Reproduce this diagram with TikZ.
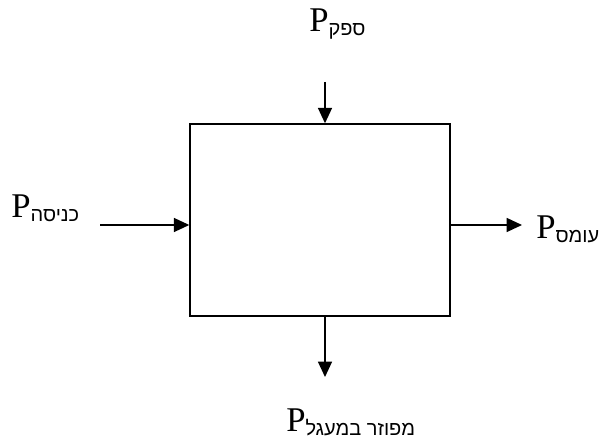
\documentclass[tikz,border=0pt]{standalone}
\usepackage{fontspec}
\setmainfont{Liberation Serif}
\newfontfamily\hebfont[Script=Hebrew]{Liberation Sans}
\TeXXeTstate=1
\usetikzlibrary{arrows.meta, positioning}
\newcommand{\pwrlabel}[1]{P\raisebox{-2.6pt}{\fontsize{15}{15}\selectfont\hebfont\beginR #1\endR}}

\begin{document}
\begin{tikzpicture}[
                x=0.75pt, y=-0.75pt,
                font=\fontsize{26}{26}\selectfont,
                >={Triangle[length=11.5pt,width=10.5pt]},
                blk/.style={
                        draw, line width=1.1pt,
                        minimum width=195pt,
                        minimum height=144pt
                    },
                arr/.style={->, line width=1pt},
                lbl/.style={inner sep=0pt, anchor=base west},
                ]
                \useasboundingbox (0,0) rectangle (608,441);

                \node[blk] (sys) at (320,220) {};

                \coordinate (supin) at (325,82);
                \coordinate (inpt) at (100,225);
                \coordinate (load) at (522,225);
                \coordinate (diss) at (325,377);

                \node[lbl] (psup) at (309,32) {\pwrlabel{ספק}};
                \node[lbl] (pin) at (11,218) {\pwrlabel{כניסה}};
                \node[lbl] (pload) at (536,239) {\pwrlabel{עומס}};
                \node[lbl] (pdiss) at (286,432) {\pwrlabel{מפוזר במעגל}};

                \draw[arr] (supin) -- (supin |- sys.north);
                \draw[arr] (inpt) -- (inpt -| sys.west);
                \draw[arr] (load -| sys.east) -- (load);
                \draw[arr] (diss |- sys.south) -- (diss);
            \end{tikzpicture}
\end{document}
